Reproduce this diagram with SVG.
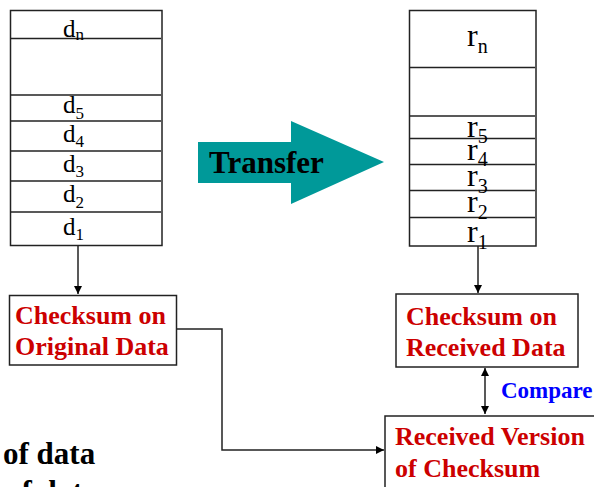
<svg xmlns="http://www.w3.org/2000/svg" width="594" height="487" viewBox="0 0 594 487">
<defs>
<marker id="ah" viewBox="0 0 10 10" refX="10" refY="5" markerWidth="8" markerHeight="8" markerUnits="userSpaceOnUse" orient="auto-start-reverse">
<path d="M0,0 L10,5 L0,10 z" fill="#000"/>
</marker>
<style>
.box{fill:#fff;stroke:#222;stroke-width:1.5}
.sep{stroke:#222;stroke-width:1.5}
.d{font-family:"Liberation Serif","Times New Roman",serif;font-size:25px;fill:#000}
.r{font-family:"Liberation Serif","Times New Roman",serif;font-size:32px;fill:#000}
.sub{font-size:17px}
.rsub{font-size:20px}
.lbl{font-family:"Liberation Serif","Times New Roman",serif;font-weight:bold;font-size:26px;fill:#cc0000}
.conn{fill:none;stroke:#222;stroke-width:1.5}
</style>
</defs>
<g id="original-stack">
<rect class="box" x="10.5" y="10.5" width="151.5" height="235"/>
<line class="sep" x1="11" y1="38.5" x2="161" y2="38.5"/>
<line class="sep" x1="11" y1="95" x2="161" y2="95"/>
<line class="sep" x1="11" y1="121" x2="161" y2="121"/>
<line class="sep" x1="11" y1="151" x2="161" y2="151"/>
<line class="sep" x1="11" y1="181" x2="161" y2="181"/>
<line class="sep" x1="11" y1="212" x2="161" y2="212"/>
<text class="d" x="63" y="37">d<tspan class="sub" dy="3">n</tspan></text>
<text class="d" x="63" y="113">d<tspan class="sub" dy="6">5</tspan></text>
<text class="d" x="63" y="142">d<tspan class="sub" dy="5">4</tspan></text>
<text class="d" x="63" y="172">d<tspan class="sub" dy="5">3</tspan></text>
<text class="d" x="63" y="202">d<tspan class="sub" dy="6">2</tspan></text>
<text class="d" x="63" y="235">d<tspan class="sub" dy="5">1</tspan></text>
</g>
<g id="received-stack">
<rect class="box" x="409.5" y="10.5" width="126.5" height="235.5"/>
<line class="sep" x1="410" y1="67.5" x2="535" y2="67.5"/>
<line class="sep" x1="410" y1="116" x2="535" y2="116"/>
<line class="sep" x1="410" y1="138.5" x2="535" y2="138.5"/>
<line class="sep" x1="410" y1="164.5" x2="535" y2="164.5"/>
<line class="sep" x1="410" y1="190.5" x2="535" y2="190.5"/>
<line class="sep" x1="410" y1="217.5" x2="535" y2="217.5"/>
<text class="r" x="467" y="46">r<tspan class="rsub" dy="7">n</tspan></text>
<text class="r" x="467" y="137">r<tspan class="rsub" dy="6">5</tspan></text>
<text class="r" x="467" y="160">r<tspan class="rsub" dy="6">4</tspan></text>
<text class="r" x="467" y="186">r<tspan class="rsub" dy="7">3</tspan></text>
<text class="r" x="467" y="212">r<tspan class="rsub" dy="7">2</tspan></text>
<text class="r" x="467" y="242">r<tspan class="rsub" dy="7">1</tspan></text>
</g>
<g id="transfer">
<polygon points="198,142 291,142 291,121 384,162 291,204 291,183 198,183" fill="#009999"/>
<text x="209" y="173" font-family="Liberation Serif,Times New Roman,serif" font-weight="bold" font-size="31" fill="#000">Transfer</text>
</g>
<g id="checksum-original">
<rect class="box" x="9.5" y="295.5" width="167" height="69.5"/>
<text class="lbl" x="15" y="324">Checksum on</text>
<text class="lbl" x="15" y="355">Original Data</text>
</g>
<g id="checksum-received">
<rect class="box" x="396" y="294" width="182" height="73"/>
<text class="lbl" x="406" y="325">Checksum on</text>
<text class="lbl" x="406" y="356">Received Data</text>
</g>
<g id="received-version">
<rect class="box" x="385" y="416" width="220" height="90"/>
<text class="lbl" x="395" y="445">Received Version</text>
<text class="lbl" x="395" y="477">of Checksum</text>
</g>
<g id="connectors">
<line class="conn" x1="78" y1="246" x2="78" y2="294" marker-end="url(#ah)"/>
<line class="conn" x1="478" y1="246" x2="478" y2="293" marker-end="url(#ah)"/>
<polyline class="conn" points="177,329 222,329 222,450 384,450" marker-end="url(#ah)"/>
<line class="conn" x1="485" y1="368" x2="485" y2="414" marker-start="url(#ah)" marker-end="url(#ah)"/>
<text x="501" y="398" font-family="Liberation Serif,Times New Roman,serif" font-weight="bold" font-size="23" fill="#0000ff">Compare</text>
</g>
<g id="background-text" font-family="Liberation Serif,Times New Roman,serif" font-weight="bold" font-size="31" fill="#000">
<text x="3" y="464">of data</text>
<text x="6" y="502">of data</text>
</g>
</svg>
